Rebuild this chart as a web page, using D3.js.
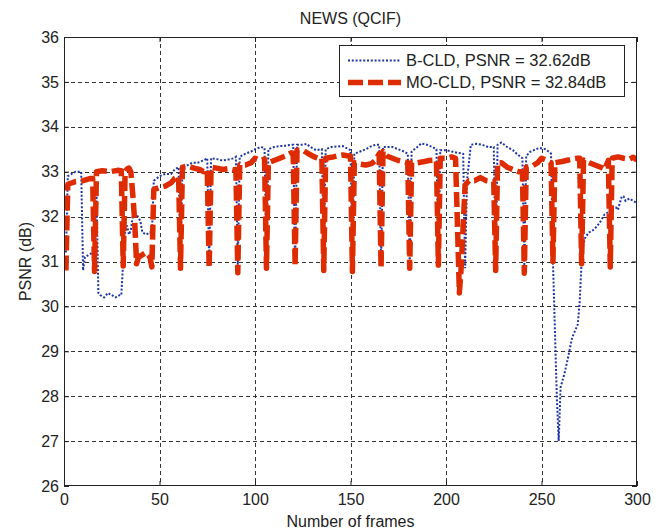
<!DOCTYPE html>
<html><head><meta charset="utf-8">
<script src="https://cdn.jsdelivr.net/npm/d3@7"></script>
<style>
body{margin:0;background:#fff;}
svg{display:block;}
text{font-family:"Liberation Sans",Arial,Helvetica,sans-serif;fill:#222;}
</style>
</head><body>
<svg id="chart" width="664" height="531"></svg>
<script>
// ---- data ----
const chartTitle = "NEWS (QCIF)";
const xLabel = "Number of frames";
const yLabel = "PSNR (dB)";
const xTicks = [0, 50, 100, 150, 200, 250, 300];
const yTicks = [26, 27, 28, 29, 30, 31, 32, 33, 34, 35, 36];
const seriesNames = ["B-CLD, PSNR = 32.62dB", "MO-CLD, PSNR = 32.84dB"];

// B-CLD (blue dotted)
const bFrames = [1,2,4,6,8,9,10,11,13,15,16,17,18,19,21,23,25,27,29,30,31,32,33,34,35,36,38,40,41,43,45,46,47,50,53,56,58,60,61,62,65,67,70,73,75,76,77,80,83,86,89,90,91,92,95,98,100,103,105,106,107,110,113,116,119,120,121,122,125,127,129,132,135,136,137,140,143,146,149,150,151,152,155,158,160,163,165,166,167,170,172,175,178,180,181,182,185,187,190,193,195,196,197,200,203,206,209,210,211,213,216,219,222,225,226,227,229,232,235,237,239,240,241,242,244,247,249,252,254,255,256,257,258,259,260,262,264,266,268,269,270,271,272,273,275,277,279,281,283,285,287,289,290,291,292,293,294,296,298,300];
const bPSNR = [31.2,32.9,32.95,33.0,33.0,33.0,30.8,31.1,31.15,31.2,31.3,32.5,30.3,30.25,30.2,30.3,30.25,30.2,30.25,30.25,31.0,31.65,31.8,31.6,31.7,32.0,32.05,31.9,31.65,31.6,31.65,31.6,32.8,32.9,32.95,32.95,33.05,33.1,30.9,33.1,33.15,33.2,33.2,33.25,33.3,30.9,33.3,33.28,33.25,33.27,33.3,33.33,30.9,33.33,33.4,33.45,33.5,33.55,33.53,30.9,33.5,33.55,33.57,33.58,33.6,33.6,30.95,33.6,33.6,33.62,33.55,33.48,33.5,30.9,33.5,33.55,33.56,33.57,33.5,33.48,30.9,33.4,33.45,33.5,33.55,33.6,33.6,30.9,33.55,33.55,33.55,33.5,33.45,33.4,30.9,33.45,33.55,33.63,33.6,33.55,33.5,30.95,33.48,33.48,33.45,33.42,33.4,30.85,32.8,33.6,33.62,33.6,33.55,33.55,30.9,33.6,33.65,33.55,33.48,33.4,33.33,33.3,30.9,33.35,33.44,33.5,33.53,33.5,33.44,33.4,31.0,29.5,28.0,27.0,28.2,28.5,28.88,29.3,29.5,29.6,30.1,31.0,31.4,31.55,31.65,31.7,31.78,31.9,32.05,32.1,32.2,32.2,32.15,32.3,32.45,32.45,32.35,32.4,32.35,32.3];

// MO-CLD (red dashed)
const mFrames = [1,2,6,10,14,15,16,17,20,24,28,30,31,32,33,34,35,36,37,38,39,41,43,44,45,46,47,50,53,56,58,60,61,62,65,68,71,73,75,76,77,80,83,86,89,90,91,92,95,98,100,103,105,106,107,110,113,116,119,120,121,122,125,128,131,133,135,136,137,140,143,146,149,150,151,152,155,158,161,163,165,166,167,169,172,175,178,180,181,182,185,188,191,194,195,196,197,200,203,205,207,208,210,212,215,218,221,224,225,226,227,229,232,235,238,240,241,242,245,248,250,253,255,256,257,260,263,266,269,270,271,272,275,278,281,283,284,285,286,287,290,293,296,298,300];
const mPSNR = [30.8,32.72,32.78,32.8,32.85,32.85,30.78,33.0,33.02,33.0,33.03,33.02,30.9,33.0,33.06,33.08,33.0,32.5,31.9,30.95,31.1,31.15,31.2,31.15,31.1,30.88,32.6,32.65,32.68,32.75,32.85,32.9,30.85,33.1,33.12,33.08,33.05,33.0,33.05,30.85,33.1,33.08,33.05,33.07,33.04,33.05,30.75,33.15,33.15,33.2,33.3,33.25,33.28,30.85,33.2,33.25,33.3,33.35,33.42,33.4,30.9,33.48,33.48,33.4,33.33,33.3,33.3,30.8,33.3,33.32,33.35,33.37,33.35,33.35,30.78,33.2,33.17,33.15,33.18,33.25,33.4,30.85,33.45,33.35,33.3,33.25,33.22,33.2,30.85,33.2,33.2,33.22,33.25,33.26,33.25,30.92,33.3,33.3,33.33,33.3,30.3,30.9,32.7,32.8,32.8,32.87,32.8,32.78,32.78,30.8,33.2,33.2,33.1,33.05,33.0,33.0,30.74,33.1,33.12,33.2,33.3,33.25,33.2,31.0,33.2,33.22,33.25,33.28,33.3,33.3,30.95,33.26,33.2,33.15,33.1,33.05,33.15,33.25,30.88,33.3,33.33,33.3,33.28,33.32,33.26];

// ---- drawing ----
const svg = d3.select("#chart");
const L = 64, R = 637, T = 37, B = 486;
const x = d3.scaleLinear().domain([xTicks[0], xTicks[xTicks.length-1]]).range([L, R]);
const y = d3.scaleLinear().domain([yTicks[0], yTicks[yTicks.length-1]]).range([B, T]);
const ink = "#222";

svg.append("rect").attr("x",0).attr("y",0).attr("width",664).attr("height",531).attr("fill","#fff");

// grid
const grid = svg.append("g").attr("stroke", "#333").attr("stroke-width", 1).attr("stroke-dasharray", "4,3");
grid.selectAll("line.gx").data(xTicks.slice(1,-1)).join("line")
  .attr("x1", d => Math.round(x(d))+0.5).attr("x2", d => Math.round(x(d))+0.5)
  .attr("y1", T).attr("y2", B);
grid.selectAll("line.gy").data(yTicks.slice(1,-1)).join("line")
  .attr("y1", d => Math.round(y(d))+0.5).attr("y2", d => Math.round(y(d))+0.5)
  .attr("x1", L).attr("x2", R);

// axes
const fs = "16px";
const ax = svg.append("g").attr("transform", `translate(0,${B})`)
  .call(d3.axisBottom(x).tickValues(xTicks).tickSize(-5).tickSizeOuter(0).tickPadding(8).tickFormat(d3.format("d")));
const ay = svg.append("g").attr("transform", `translate(${L},0)`)
  .call(d3.axisLeft(y).tickValues(yTicks).tickSize(-5).tickSizeOuter(0).tickPadding(5).tickFormat(d3.format("d")));
const at = svg.append("g").attr("transform", `translate(0,${T})`)
  .call(d3.axisTop(x).tickValues(xTicks).tickSize(-5).tickSizeOuter(0).tickFormat(""));
const ar = svg.append("g").attr("transform", `translate(${R},0)`)
  .call(d3.axisRight(y).tickValues(yTicks).tickSize(-5).tickSizeOuter(0).tickFormat(""));
[ax, ay, at, ar].forEach(g => {
  g.select(".domain").remove();
  g.selectAll("line").attr("stroke", ink);
  g.selectAll("text").style("font-size", fs).attr("fill", ink)
   .style("font-family", '"Liberation Sans",Arial,sans-serif');
});

// clip
svg.append("clipPath").attr("id","clip").append("rect")
  .attr("x", L).attr("y", T).attr("width", R-L).attr("height", B-T);

const line = d3.line().x(d => x(d[0])).y(d => y(d[1]));
const bData = bFrames.map((f,i) => [f, bPSNR[i]]);
const mData = mFrames.map((f,i) => [f, mPSNR[i]]);
const blue = "#1f35a5", red = "#de2c00";
const plot = svg.append("g").attr("clip-path","url(#clip)");
plot.append("path").datum(bData).attr("d", line).attr("fill","none")
  .attr("stroke", blue).attr("stroke-width", 2).attr("stroke-dasharray", "2,1.8");
plot.append("path").datum(mData).attr("d", line).attr("fill","none")
  .attr("stroke", red).attr("stroke-width", 5.5).attr("stroke-dasharray", "15,5")
  .attr("stroke-linejoin","round");

// frame
svg.append("rect").attr("x", L+0.5).attr("y", T+0.5).attr("width", R-L-1).attr("height", B-T-1)
  .attr("fill","none").attr("stroke", ink).attr("stroke-width", 1);

// title & labels
svg.append("text").attr("x", (L+R)/2).attr("y", 24).attr("text-anchor","middle")
  .style("font-size", fs).text(chartTitle);
svg.append("text").attr("x", (L+R)/2).attr("y", 527).attr("text-anchor","middle")
  .style("font-size", fs).text(xLabel);
svg.append("text").attr("transform", `translate(31,${(T+B)/2}) rotate(-90)`).attr("text-anchor","middle")
  .style("font-size", fs).text(yLabel);

// legend
const lg = svg.append("g");
lg.append("rect").attr("x", 339.5).attr("y", 45.5).attr("width", 285).attr("height", 51)
  .attr("fill", "#fff").attr("stroke", ink).attr("stroke-width", 1);
const legRows = [
  {name: seriesNames[0], color: blue, w: 2, dash: "2,1.8", y: 60.5},
  {name: seriesNames[1], color: red, w: 5.5, dash: "15,5", y: 82.5}
];
legRows.forEach(r => {
  lg.append("line").attr("x1", 348).attr("x2", 401).attr("y1", r.y).attr("y2", r.y)
    .attr("stroke", r.color).attr("stroke-width", r.w).attr("stroke-dasharray", r.dash);
  lg.append("text").attr("x", 406).attr("y", r.y).attr("dy", "0.36em")
    .style("font-size", "16.5px").text(r.name);
});
</script>
</body></html>
